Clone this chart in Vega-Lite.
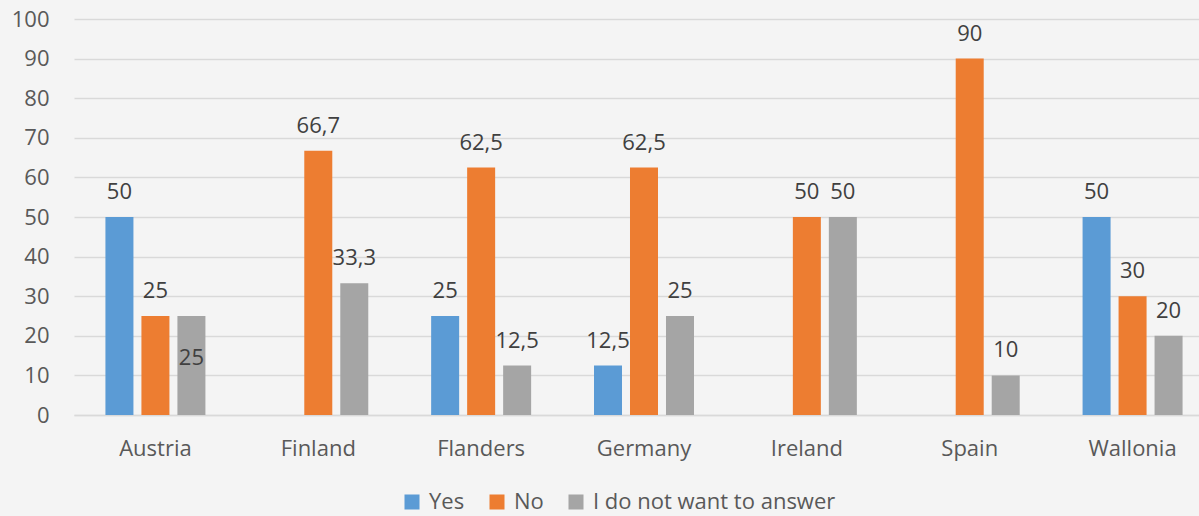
{
  "$schema": "https://vega.github.io/schema/vega-lite/v6.json",
  "width": 1125,
  "height": 396,
  "autosize": {"type": "none"},
  "padding": {"left": 74, "top": 19, "right": 0, "bottom": 101},
  "background": "#F4F4F4",
  "config": {
    "view": {"stroke": null},
    "font": "Open Sans",
    "locale": {"number": {"decimal": ",", "thousands": ".", "grouping": [3], "currency": ["", " €"]}}
  },
  "data": {
    "values": [
      {"country": "Austria", "answer": "Yes", "value": 50},
      {"country": "Austria", "answer": "No", "value": 25},
      {"country": "Austria", "answer": "I do not want to answer", "value": 25},
      {"country": "Finland", "answer": "Yes", "value": 0},
      {"country": "Finland", "answer": "No", "value": 66.7},
      {"country": "Finland", "answer": "I do not want to answer", "value": 33.3},
      {"country": "Flanders", "answer": "Yes", "value": 25},
      {"country": "Flanders", "answer": "No", "value": 62.5},
      {"country": "Flanders", "answer": "I do not want to answer", "value": 12.5},
      {"country": "Germany", "answer": "Yes", "value": 12.5},
      {"country": "Germany", "answer": "No", "value": 62.5},
      {"country": "Germany", "answer": "I do not want to answer", "value": 25},
      {"country": "Ireland", "answer": "Yes", "value": 0},
      {"country": "Ireland", "answer": "No", "value": 50},
      {"country": "Ireland", "answer": "I do not want to answer", "value": 50},
      {"country": "Spain", "answer": "Yes", "value": 0},
      {"country": "Spain", "answer": "No", "value": 90},
      {"country": "Spain", "answer": "I do not want to answer", "value": 10},
      {"country": "Wallonia", "answer": "Yes", "value": 50},
      {"country": "Wallonia", "answer": "No", "value": 30},
      {"country": "Wallonia", "answer": "I do not want to answer", "value": 20}
    ]
  },
  "encoding": {
    "x": {
      "field": "country", "type": "nominal", "sort": null,
      "scale": {"range": [0, 1140], "paddingInner": 0.386, "paddingOuter": 0.193},
      "axis": {"title": null, "labelAngle": 0, "labelFontSize": 22, "labelColor": "#595959", "labelPadding": 23, "ticks": false, "domainColor": "#D9D9D9", "domainWidth": 1.5, "grid": false}
    },
    "xOffset": {
      "field": "answer", "type": "nominal", "sort": ["Yes", "No", "I do not want to answer"],
      "scale": {"paddingInner": 0.222, "paddingOuter": 0}
    },
    "y": {
      "field": "value", "type": "quantitative",
      "scale": {"domain": [0, 100], "nice": false},
      "axis": {"title": null, "values": [0,10,20,30,40,50,60,70,80,90,100], "labelFontSize": 22, "labelColor": "#595959", "labelPadding": 25, "ticks": false, "domain": false, "gridColor": "#D9D9D9", "gridWidth": 1.5}
    }
  },
  "layer": [
    {
      "mark": {"type": "bar"},
      "encoding": {
        "color": {
          "field": "answer", "type": "nominal",
          "scale": {"domain": ["Yes", "No", "I do not want to answer"], "range": ["#5B9BD5", "#ED7D31", "#A5A5A5"]},
          "legend": {
            "title": null, "orient": "none", "direction": "horizontal",
            "legendX": 327, "legendY": 472,
            "symbolType": "square", "symbolSize": 225, "symbolStrokeWidth": 0,
            "labelFontSize": 22, "labelColor": "#595959", "labelOffset": 6, "labelLimit": 400, "columnPadding": 21
          }
        }
      }
    },
    {
      "transform": [
        {"filter": "datum.value > 0 && !(datum.country == 'Austria' && datum.answer == 'I do not want to answer')"}
      ],
      "mark": {"type": "text", "baseline": "middle", "dy": -25, "fontSize": 22, "color": "#404040"},
      "encoding": {"text": {"field": "value", "type": "quantitative", "format": ".3~r"}}
    },
    {
      "transform": [
        {"filter": "datum.country == 'Austria' && datum.answer == 'I do not want to answer'"}
      ],
      "mark": {"type": "text", "baseline": "middle", "dy": 42, "fontSize": 22, "color": "#404040"},
      "encoding": {"text": {"field": "value", "type": "quantitative", "format": ".3~r"}}
    }
  ]
}
